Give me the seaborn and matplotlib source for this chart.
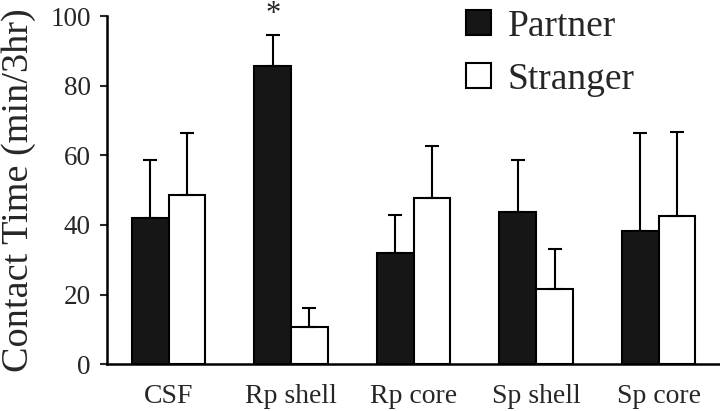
import pandas as pd
import numpy as np
import seaborn as sns
import matplotlib.pyplot as plt

# values
regions = ['CSF', 'Rp shell', 'Rp core', 'Sp shell', 'Sp core']
partner = [42, 85.7, 32, 43.7, 38.2]
partner_err = [16.6, 8.8, 10.9, 14.9, 28.3]
stranger = [48.5, 10.6, 47.6, 21.7, 42.5]
stranger_err = [18, 5.5, 15.2, 11.4, 24.3]

df = pd.DataFrame({
    'region': regions * 2,
    'time': partner + stranger,
    'err': partner_err + stranger_err,
    'group': ['Partner'] * 5 + ['Stranger'] * 5,
})

sns.set_style("white")
plt.rcParams['font.family'] = ['Liberation Serif', 'DejaVu Serif']

fig = plt.figure(figsize=(7.2, 4.11), dpi=100)
ax = fig.add_axes([0.149, 0.114, 0.851, 0.847])

sns.barplot(data=df, x='region', y='time', hue='group', order=regions,
            hue_order=['Partner', 'Stranger'], palette=['#161616', 'white'],
            edgecolor='black', linewidth=1.5, width=0.6, errorbar=None,
            ax=ax)

# upper-only error bars, placed at the centre of each drawn bar
bars = [p for p in ax.patches if p.get_height() > 0]
bars = sorted(bars, key=lambda p: p.get_x())
xs = np.array([p.get_x() + p.get_width() / 2 for p in bars])
hs = np.array([p.get_height() for p in bars])
lookup = dict(zip(df['time'], df['err']))
errs = np.array([lookup[h] for h in hs])
ax.errorbar(xs, hs, yerr=[np.zeros_like(errs), errs], fmt='none',
            ecolor='black', elinewidth=1.5, capsize=5, capthick=1.5, zorder=1)

# significance star above Rp shell partner
ax.text(xs[2], 98.2, '*', ha='center', va='baseline', fontsize=22, clip_on=False)

ax.set_xlim(-0.5, 4.5)
ax.set_ylim(0, 100)
ax.set_yticks([0, 20, 40, 60, 80, 100])
ax.set_xlabel('')
ax.set_ylabel('Contact Time (min/3hr)', fontsize=27.5, labelpad=10)
ax.tick_params(axis='y', labelsize=19.5, length=5, width=1.5, direction='out',
               pad=7, left=True)
ax.tick_params(axis='x', labelsize=20, length=0, pad=14)

sns.despine(ax=ax)
for s in ['left', 'bottom']:
    ax.spines[s].set_linewidth(1.8)
    ax.spines[s].set_color('black')

handles, labels = ax.get_legend_handles_labels()
ax.legend(handles, labels, loc='upper left', bbox_to_anchor=(0.586, 1.02),
          frameon=False, fontsize=27, handlelength=0.65, handleheight=0.65,
          handletextpad=0.45, labelspacing=0.5, borderpad=0,
          borderaxespad=0)

fig.savefig('out.png', dpi=100)
